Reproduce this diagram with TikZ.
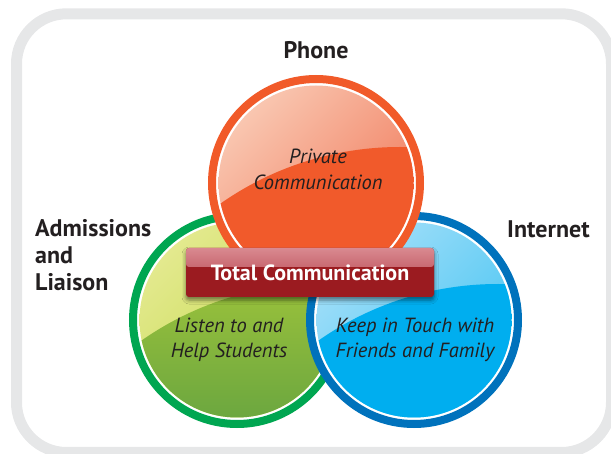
\documentclass[tikz,border=0pt]{standalone}
\usepackage{xcolor}
\usepackage{fontspec}
\setmainfont{PT Sans}
\usepackage{tikz}
\usetikzlibrary{shapes,positioning,shadows,shadows.blur}

\definecolor{framegray}{HTML}{E6E7E8}
\definecolor{inktext}{HTML}{231F20}
\definecolor{phonering}{HTML}{F15A29}
\definecolor{phonelight}{HTML}{F9C6B0}
\definecolor{phonemid}{HTML}{F07758}
\definecolor{phonebase}{HTML}{F15A2B}
\definecolor{admring}{HTML}{00A651}
\definecolor{admlight}{HTML}{E3E98E}
\definecolor{admmid}{HTML}{C2D948}
\definecolor{admtop}{HTML}{AFCD3A}
\definecolor{admbottom}{HTML}{6CA73F}
\definecolor{netring}{HTML}{0072BC}
\definecolor{netlight}{HTML}{A3DFF9}
\definecolor{netmid}{HTML}{45C4F2}
\definecolor{netbase}{HTML}{00AEEF}
\definecolor{totalred}{HTML}{9B1B20}
\definecolor{totallight}{HTML}{D98990}
\definecolor{totalmid}{HTML}{AE3640}

\tikzset{
  ring/.style={circle, draw=#1, line width=8pt, fill=white, minimum size=208pt, inner sep=0pt},
  gloss/.style n args={4}{circle, minimum size=195pt, inner sep=0pt, path picture={
      \shade[top color=#1, bottom color=#2, shading angle=45]
        (path picture bounding box.south west) rectangle (path picture bounding box.north east);
      \begin{scope}
        \clip ([shift={(84,277)}]path picture bounding box.center) circle[radius=313];
        \shade[top color=#3, bottom color=#4]
          (path picture bounding box.south west) rectangle (path picture bounding box.north east);
      \end{scope}}},
  heading/.style={font=\bfseries\fontsize{24}{27}\selectfont, text=inktext, inner sep=0pt},
  topic/.style={font=\itshape\fontsize{20.5}{25.5}\selectfont, text=inktext, align=center, inner sep=0pt},
  totalbar/.style={rectangle, rounded corners=3pt, minimum width=248pt, minimum height=49pt, inner sep=0pt,
    fill=totalred, text=white, font=\bfseries\fontsize{22}{25}\selectfont,
    blur shadow={shadow xshift=0pt, shadow yshift=-3pt, shadow blur radius=4pt, shadow opacity=50},
    path picture={\shade[top color=totallight, bottom color=totalmid]
      (path picture bounding box.north west) rectangle ([yshift=-19pt]path picture bounding box.north east);}}
}

\begin{document}
\begin{tikzpicture}[x=1pt, y=-1pt]
\useasboundingbox (0,0) rectangle (611,454);
\clip (0,0) rectangle (611,454);
\draw[framegray, line width=11pt, rounded corners=50pt] (16.5,13.8) rectangle (611.5,452.5);

% the three circles
\node[ring=admring] (adm) at (237,320) {};
\node[gloss={admlight}{admmid}{admtop}{admbottom}] (adminner) at (adm) {};
\node[ring=netring] (net) at (414,320) {};
\node[gloss={netlight}{netmid}{netbase}{netbase}] (netinner) at (net) {};
\node[ring=phonering] (phone) at (316,183) {};
\node[gloss={phonelight}{phonemid}{phonebase}{phonebase}] (phoneinner) at (phone) {};

% labels (base = last line)
\node[heading, anchor=base] (phonelbl) at (316,58.3) {Phone};
\node[heading, anchor=base west, align=left] (admlbl) at (35,291) {Admissions\\and\\Liaison};
\node[heading, anchor=base west] (netlbl) at (507,237.3) {Internet};

\node[topic, anchor=base] (phonetxt) at (318,189.3) {Private\\Communication};
\node[topic, anchor=base] (admtxt) at (229,358) {Listen to and\\Help Students};
\node[topic, anchor=base] (nettxt) at (415,358) {Keep in Touch with\\Friends and Family};

\node[totalbar] (total) at (310,272.5) {Total Communication};
\end{tikzpicture}
\end{document}
